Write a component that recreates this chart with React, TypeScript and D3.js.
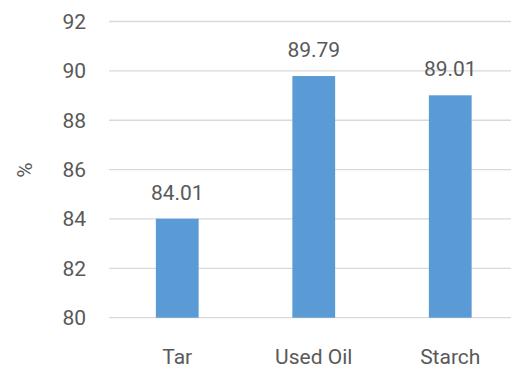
import React from "react";
import * as d3 from "d3";

const categories = ["Tar", "Used Oil", "Starch"];
const values = [84.01, 89.79, 89.01];
const yTicks = [80, 82, 84, 86, 88, 90, 92];

const W = 511;
const H = 371;
const plot = { left: 109, right: 518.5, top: 21.5, bottom: 317.7 };
const gap = 2.19; // gap width relative to bar width

const FONT = "Roboto, 'Noto Sans', sans-serif";
const TEXT = "#595959";

export default function App() {
  const p = gap / (1 + gap);
  const x = d3
    .scaleBand<string>()
    .domain(categories)
    .range([plot.left, plot.right])
    .paddingInner(p)
    .paddingOuter(p / 2);
  const y = d3.scaleLinear().domain([80, 92]).range([plot.bottom, plot.top]);

  return (
    <svg
      width={W}
      height={H}
      style={{ position: "absolute", left: 0, top: 0, background: "#fff" }}
      fontFamily={FONT}
    >
      {yTicks.map((t) => (
        <g key={t}>
          <line
            x1={plot.left}
            x2={W}
            y1={y(t)}
            y2={y(t)}
            stroke="#d9d9d9"
            strokeWidth={1.3}
          />
          <text
            x={86}
            y={y(t)}
            dy="0.35em"
            textAnchor="end"
            fontSize={21}
            fill={TEXT}
          >
            {t}
          </text>
        </g>
      ))}
      {categories.map((c, i) => (
        <g key={c}>
          <rect
            x={x(c)}
            width={x.bandwidth()}
            y={y(values[i])}
            height={y(80) - y(values[i])}
            fill="#5b9bd5"
          />
          <text
            x={(x(c) as number) + x.bandwidth() / 2}
            y={y(values[i]) - 19}
            textAnchor="middle"
            fontSize={21}
            fill={TEXT}
          >
            {values[i].toFixed(2)}
          </text>
          <text
            x={(x(c) as number) + x.bandwidth() / 2}
            y={364}
            textAnchor="middle"
            fontSize={21}
            fill={TEXT}
          >
            {c}
          </text>
        </g>
      ))}
      <text
        transform={`translate(25,170) rotate(-90)`}
        textAnchor="middle"
        dy="0.35em"
        fontSize={21}
        fill={TEXT}
      >
        %
      </text>
    </svg>
  );
}
